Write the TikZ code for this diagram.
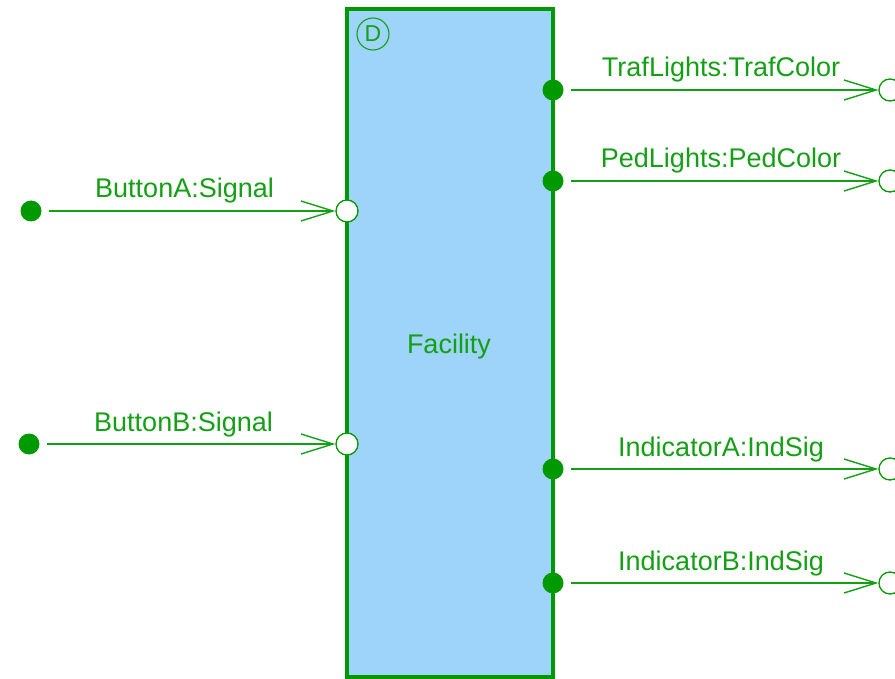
\documentclass[tikz,border=0pt]{standalone}
\usepackage{fontspec}
\setmainfont{Liberation Sans}
\usetikzlibrary{arrows.meta}

\definecolor{dgreen}{RGB}{0,153,0}
\definecolor{lgreen}{RGB}{20,160,20}
\definecolor{boxblue}{RGB}{158,211,250}

\begin{document}
\begin{tikzpicture}[x=1pt,y=-1pt,
  font=\fontsize{27}{31}\selectfont,
  textlbl/.style={text=lgreen, anchor=base, inner sep=0pt},
  outport/.style={circle, fill=dgreen, minimum size=21pt, inner sep=0pt},
  inport/.style={circle, draw=dgreen, line width=1.3pt, fill=white, minimum size=22pt, inner sep=0pt},
  conn/.style={draw=lgreen, line width=1.4pt, shorten <=7pt,
    -{Straight Barb[length=32pt,width=20pt,line width=1.4pt]}},
]
\useasboundingbox (0,0) rectangle (895,679);

% block
\draw[dgreen, line width=4pt, fill=boxblue] (347,9) rectangle (553,677);
\node[circle, draw=lgreen, line width=1.1pt, minimum size=32pt, inner sep=0pt,
      text=lgreen, font=\fontsize{23}{25}\selectfont] (dmark) at (373,34) {D};
\node[textlbl] (fac) at (449,353) {Facility};

% left sources and input ports
\node[outport] (srcA) at (31,211) {};
\node[outport] (srcB) at (29,444) {};
\node[inport] (inA) at (347,211) {};
\node[inport] (inB) at (347,444) {};

% right output ports and targets
\node[outport] (outT) at (553,90) {};
\node[outport] (outP) at (553,181) {};
\node[outport] (outIA) at (553,469) {};
\node[outport] (outIB) at (553,583) {};
\node[inport] (tgtT) at (890,90) {};
\node[inport] (tgtP) at (890,181) {};
\node[inport] (tgtIA) at (890,469) {};
\node[inport] (tgtIB) at (890,583) {};

% connectors
\draw[conn] (srcA) -- (inA) node[textlbl, midway, xshift=-4pt, yshift=13pt] {ButtonA:Signal};
\draw[conn] (srcB) -- (inB) node[textlbl, midway, xshift=-4pt, yshift=13pt] {ButtonB:Signal};
\draw[conn] (outT) -- (tgtT) node[textlbl, midway, yshift=13pt] {TrafLights:TrafColor};
\draw[conn] (outP) -- (tgtP) node[textlbl, midway, yshift=13pt] {PedLights:PedColor};
\draw[conn] (outIA) -- (tgtIA) node[textlbl, midway, yshift=13pt] {IndicatorA:IndSig};
\draw[conn] (outIB) -- (tgtIB) node[textlbl, midway, yshift=13pt] {IndicatorB:IndSig};
\end{tikzpicture}
\end{document}
